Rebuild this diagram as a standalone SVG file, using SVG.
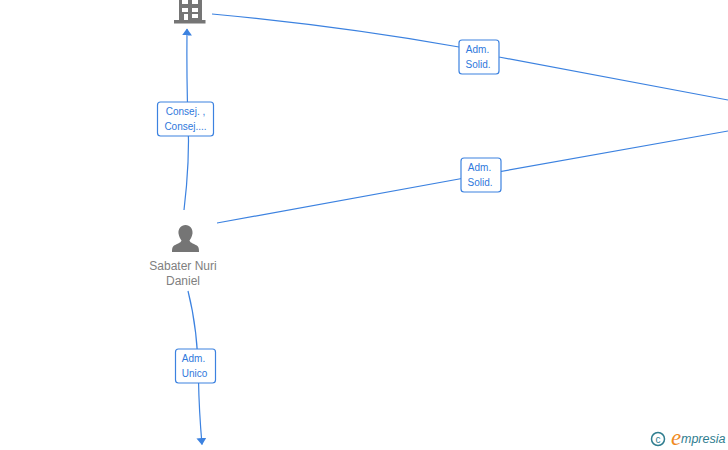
<svg xmlns="http://www.w3.org/2000/svg" width="728" height="450" viewBox="0 0 728 450">
<style>
.c{fill:none;stroke:#3c82e0;stroke-width:1.2}
.b{fill:#fff;stroke:#3c82e0;stroke-width:1.200}
.t{font-family:"Liberation Sans",Arial,sans-serif;font-size:10px;fill:#2f78dc;text-anchor:middle}
.n{font-family:"Liberation Sans",Arial,sans-serif;font-size:12px;fill:#808080;text-anchor:middle}
.i{fill:#757575}
</style>
<defs>
<marker id="a" markerWidth="7" markerHeight="10" refX="6.500" refY="5" orient="auto" markerUnits="userSpaceOnUse"><path d="M0 0L7 5L0 10Z" fill="#3c82e0"/></marker>
</defs>
<rect width="728" height="450" fill="#fff"/>
<g id="connectors">
<path class="c" d="M184 210Q190 160 188 120Q186.500 80 187 29" marker-end="url(#a)"/>
<path class="c" d="M212 14Q340 26 459 47L499 57L728 100"/>
<path class="c" d="M217 223L481 175L728 131"/>
<path class="c" d="M188 291Q198 330 198.500 380Q199 410 202 444.500" marker-end="url(#a)"/>
</g>
<g id="label1"><rect class="b" x="157.500" y="102" width="56" height="34" rx="3"/><text class="t" x="185.500" y="115">Consej. ,</text><text class="t" x="185.500" y="130">Consej....</text></g>
<g id="label2"><rect class="b" x="459" y="40" width="40" height="34" rx="3"/><text class="t" x="477.500" y="53">Adm.</text><text class="t" x="478" y="68">Solid.</text></g>
<g id="label3"><rect class="b" x="461" y="158" width="40" height="34" rx="3"/><text class="t" x="479.500" y="171">Adm.</text><text class="t" x="480" y="186">Solid.</text></g>
<g id="label4"><rect class="b" x="175.500" y="349" width="40" height="34" rx="3"/><text class="t" x="193.500" y="362">Adm.</text><text class="t" x="194.500" y="377">Unico</text></g>
<g id="company">
<path class="i" fill-rule="evenodd" d="M179 0H202V20H205.500V23.500H174V20H179ZM182 0V4H188V0ZM192 0V4H198V0ZM182 8V12H188V8ZM192 8V12H198V8ZM184 14V20H188V14ZM192 14V18H198V14Z"/>
</g>
<g id="person">
<path class="i" d="M185.500 225C190 225 193 229 192.500 233.500C192 237 190.500 239 189.500 240.500C190 243 195 244 197.500 246C199 247.500 199 250 199 252H172C172 250 172 247.500 173.500 246C176 244 181 243 181.500 240.500C180.500 239 179 237 178.500 233.500C178 229 181 225 185.500 225Z"/>
<text class="n" x="183" y="270">Sabater Nuri</text>
<text class="n" x="183" y="285">Daniel</text>
</g>
<g id="logo">
<circle cx="658" cy="439" r="6.500" fill="none" stroke="#2f7d8f" stroke-width="1.500"/>
<text x="658" y="442.500" font-family="Liberation Sans,sans-serif" font-size="10" fill="#2f7d8f" text-anchor="middle">c</text>
<text x="671" y="445" font-family="Liberation Serif,serif" font-style="italic" font-size="23" fill="#f08a1e">e</text>
<text x="681" y="443" font-family="Liberation Sans,sans-serif" font-style="italic" font-size="12.500" fill="#2f7d8f">mpresia</text>
</g>
</svg>
